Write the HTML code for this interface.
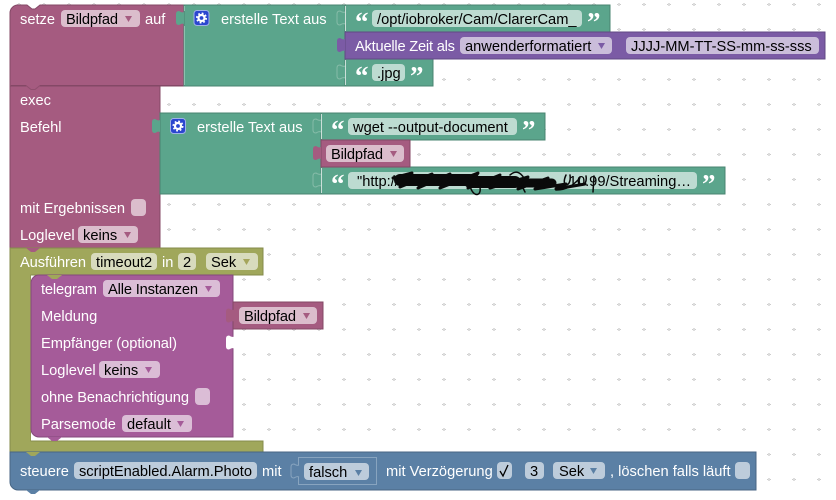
<!DOCTYPE html>
<html>
<head>
<meta charset="utf-8">
<style>
html,body{margin:0;padding:0;background:#fff;width:836px;height:500px;overflow:hidden}
svg{display:block}
text{font-family:"Liberation Sans",Arial,sans-serif;font-size:14.67px;fill:#000}
.w{fill:#fff}
.q{font-family:"Liberation Serif",serif;font-weight:bold;font-size:27px;fill:#fff}
.rose{fill:#a55b80;stroke:#844866}
.green{fill:#5ba58c;stroke:#498470}
.purple{fill:#7b5ba5;stroke:#624984}
.olive{fill:#a0a75b;stroke:#858b4b}
.tele{fill:#a55b99;stroke:#844a7b}
.blue{fill:#5b80a5;stroke:#486684}
.fr{fill:#dbbdcc}.fg{fill:#bddbd1}.fp{fill:#cabdda}.fo{fill:#d8dbbd}.ft{fill:#dbbdd6}.fb{fill:#bdccdb}
.ar{fill:#a55b80}.ag{fill:#a5a55b}.ap{fill:#7b5ba5}.at{fill:#a55b99}.ab{fill:#5b80a5}
.nt{fill:#5ba58c;stroke:#86bca9}
</style>
</head>
<body>
<svg width="836" height="500" viewBox="0 0 836 500" xmlns="http://www.w3.org/2000/svg">
<defs>
<pattern id="g" width="25" height="25" patternUnits="userSpaceOnUse">
<rect x="17" y="4" width="4" height="1" fill="#ccc"/><rect x="18" y="3" width="2" height="3" fill="#ddd"/>
</pattern>
<g id="gear">
<rect x="0.5" y="0.5" width="15" height="15" rx="3" fill="#2b46cf" stroke="#9fb0e8"/>
<circle cx="8" cy="8" r="3" fill="none" stroke="#fff" stroke-width="2.2"/>
<circle cx="8" cy="8" r="4.7" fill="none" stroke="#fff" stroke-width="1.6" stroke-dasharray="1.8 1.9"/>
</g>
<path id="tab" d="M8 1 c-2 1 -3 0 -5 -1 q-3 0 -3 3 v8 q0 3 3 3 c2 -1 3 -2 5 -1 z"/>
<path id="tabo" d="M8 1 c-2 1 -3 0 -5 -1 q-3 0 -3 3 v8 q0 3 3 3 c2 -1 3 -2 5 -1"/>
</defs>
<rect width="836" height="500" fill="#fff"/>
<rect width="836" height="500" fill="url(#g)"/>

<!-- setze -->
<path class="rose" d="M18 5 H27 l5 4 h3 l5-4 H184 V86 H10 V13 a8 8 0 0 1 8-8z"/>
<!-- exec -->
<path class="rose" d="M10 86 H160 V248 H10z"/>
<path d="M11 85.500 H183" stroke="#844866" fill="none"/>
<path d="M26 85 l5 4 h4 l5-4z" fill="#a55b80"/>
<path d="M26 85.500 l5 4 h4 l5-4" fill="none" stroke="#8f4f6e"/>
<!-- olive -->
<path class="olive" d="M10 248 H263 V275 H31 V441 H263 V452 H10z"/>
<rect x="31" y="275.500" width="202" height="165" fill="#fff"/>
<path d="M26 248 l5 4 h4 l5-4z" fill="#a55b80"/>
<!-- telegram -->
<path class="tele" d="M39 275 H233 V437 H39 a8 8 0 0 1 -8-8 V283 a8 8 0 0 1 8-8z"/>
<path d="M47 275 l5 4 h5 l5-4z" fill="#a0a75b"/>
<path d="M47 437 l5 4 h5 l5-4z" fill="#a55b99"/>
<use href="#tab" x="226" y="335.500" fill="#fff"/>
<!-- steuere -->
<path class="blue" d="M10 452 H756 V490 H18 a8 8 0 0 1 -8-8z"/>
<path d="M26 452 l5 4 h4 l5-4z" fill="#a0a75b"/>
<path d="M26 490 l5 4 h4 l5-4z" fill="#5b80a5"/>
<rect x="298.500" y="457.500" width="78" height="27" fill="#5b80a5" stroke="#88a4bf"/>
<use href="#tabo" x="291" y="464" fill="#5b80a5" stroke="#88a4bf"/>

<!-- green 1 -->
<rect class="green" x="184" y="5" width="161" height="81"/>
<use href="#tab" x="176" y="11" fill="#5ba58c"/>
<path d="M184.500 6 V11 M184.500 26 V85" stroke="#8cc0ae" fill="none"/>
<rect x="345" y="5" width="265" height="27" class="green"/>
<use href="#tabo" x="337" y="11" class="nt"/>
<rect x="345" y="59" width="88" height="27" class="green"/>
<use href="#tabo" x="337" y="65" class="nt"/>
<rect x="345" y="32" width="480" height="27" class="purple"/>
<use href="#tab" x="337" y="38" fill="#7b5ba5"/>
<path d="M345.500 6 V31 M345.500 60 V85" stroke="#fff" stroke-opacity=".7" fill="none"/>

<!-- green 2 -->
<rect class="green" x="160" y="113" width="161" height="81"/>
<use href="#tab" x="152" y="119" fill="#5ba58c"/>
<rect x="321" y="113" width="224" height="27" class="green"/>
<use href="#tabo" x="313" y="119" class="nt"/>
<rect x="321" y="167" width="404" height="27" class="green"/>
<use href="#tabo" x="313" y="173" class="nt"/>
<rect class="rose" x="321" y="140" width="89" height="27"/>
<use href="#tab" x="313" y="146" fill="#a55b80"/>
<path d="M321.500 114 V139 M321.500 168 V193" stroke="#fff" stroke-opacity=".7" fill="none"/>

<!-- Bildpfad in telegram -->
<rect class="rose" x="233" y="302" width="90" height="27"/>
<use href="#tab" x="226" y="308.500" fill="#a55b80"/>

<!-- row 1 -->
<text class="w" x="20" y="24">setze</text>
<rect class="fr" x="61" y="10" width="79" height="17" rx="4"/>
<text x="66" y="24" textLength="52">Bildpfad</text>
<polygon class="ar" points="125,16 132,16 128.500,22"/>
<text class="w" x="145" y="24">auf</text>
<use href="#gear" x="193.500" y="10"/>
<text class="w" x="221" y="24">erstelle Text aus</text>
<text class="q" x="355" y="31">“</text>
<rect class="fg" x="372" y="10" width="210" height="17" rx="4"/>
<text x="377" y="24">/opt/iobroker/Cam/ClarerCam_</text>
<text class="q" x="587" y="31">”</text>
<text class="w" x="355" y="51" textLength="100">Aktuelle Zeit als</text>
<rect class="fp" x="460" y="37" width="152" height="17" rx="4"/>
<text x="465" y="51">anwenderformatiert</text>
<polygon class="ap" points="598,43 605,43 601.500,49"/>
<rect class="fp" x="626" y="37" width="193" height="17" rx="4"/>
<text x="631" y="51">JJJJ-MM-TT-SS-mm-ss-sss</text>
<text class="q" x="355" y="85">“</text>
<rect class="fg" x="372" y="64" width="33" height="17" rx="4"/>
<text x="377" y="78">.jpg</text>
<text class="q" x="410" y="85">”</text>

<!-- exec -->
<text class="w" x="20" y="105">exec</text>
<text class="w" x="20" y="132">Befehl</text>
<use href="#gear" x="170" y="118"/>
<text class="w" x="197" y="132">erstelle Text aus</text>
<text class="q" x="331" y="139">“</text>
<rect class="fg" x="348" y="118" width="169" height="17" rx="4"/>
<text x="353" y="132">wget --output-document</text>
<text class="q" x="522" y="139">”</text>
<rect class="fr" x="326" y="145" width="78" height="17" rx="4"/>
<text x="331" y="159" textLength="52">Bildpfad</text>
<polygon class="ar" points="390,151 397,151 393.500,157"/>
<text class="q" x="331" y="193">“</text>
<rect class="fg" x="348" y="172" width="349" height="17" rx="4"/>
<text x="357" y="186">"http://</text>
<text x="691" y="186" text-anchor="end">10.99/Streaming…</text>
<text class="q" x="702" y="193">”</text>
<!-- scribble -->
<g fill="none" stroke="#0a0a0a" stroke-linejoin="round" stroke-linecap="round">
<path stroke-width="12" d="M400 180 H470 M470 182 H515"/>
<path stroke-width="9" d="M515 183 H552"/>
<path stroke-width="3" d="M393 178 L412 173 L400 187 L432 174 L418 188 L450 174 L440 188 L478 173 L468 188 L500 175 L490 188 L528 177 L518 189 L548 178 L535 189 L566 184 L556 189 L585 184"/>
<path stroke-width="1.500" d="M470 185 C472 198 484 198 479 183 M520 182 L525 192 M556 190 C568 190 574 184 578 180 M594 176 L593 192 M566 175 C560 188 572 188 570 175 M580 177 C576 188 588 188 586 176 M510 175 C516 170 520 172 524 178"/>
</g>
<text class="w" x="20" y="213">mit Ergebnissen</text>
<rect class="fr" x="131" y="199" width="15" height="17" rx="4"/>
<text class="w" x="20" y="240">Loglevel</text>
<rect class="fr" x="78" y="226" width="60" height="17" rx="4"/>
<text x="83" y="240">keins</text>
<polygon class="ar" points="124,232 131,232 127.500,238"/>

<!-- Ausführen -->
<text class="w" x="20" y="267" textLength="66">Ausführen</text>
<rect class="fo" x="91" y="253" width="66" height="17" rx="4"/>
<text x="96" y="267">timeout2</text>
<text class="w" x="162" y="267">in</text>
<rect class="fo" x="178" y="253" width="18" height="17" rx="4"/>
<text x="183" y="267">2</text>
<rect class="fo" x="206" y="253" width="52" height="17" rx="4"/>
<text x="211" y="267">Sek</text>
<polygon class="ag" points="243,259 250,259 246.500,265"/>

<!-- telegram -->
<text class="w" x="41" y="294" textLength="56">telegram</text>
<rect class="ft" x="103" y="280" width="117" height="17" rx="4"/>
<text x="108" y="294" textLength="90">Alle Instanzen</text>
<polygon class="at" points="205,286 212,286 208.500,292"/>
<text class="w" x="41" y="321">Meldung</text>
<rect class="fr" x="239" y="307" width="78" height="17" rx="4"/>
<text x="244" y="321" textLength="52">Bildpfad</text>
<polygon class="ar" points="303,313 310,313 306.500,319"/>
<text class="w" x="41" y="348" textLength="136">Empfänger (optional)</text>
<text class="w" x="41" y="375">Loglevel</text>
<rect class="ft" x="99" y="361" width="61" height="17" rx="4"/>
<text x="104" y="375">keins</text>
<polygon class="at" points="145,367 152,367 148.500,373"/>
<text class="w" x="41" y="402" textLength="148">ohne Benachrichtigung</text>
<rect class="ft" x="195" y="388" width="15" height="17" rx="4"/>
<text class="w" x="41" y="429">Parsemode</text>
<rect class="ft" x="122" y="415" width="70" height="17" rx="4"/>
<text x="127" y="429">default</text>
<polygon class="at" points="177,421 184,421 180.500,427"/>

<!-- steuere -->
<text class="w" x="20" y="476">steuere</text>
<rect class="fb" x="74" y="462" width="183" height="17" rx="4"/>
<text x="79" y="476" textLength="173">scriptEnabled.Alarm.Photo</text>
<text class="w" x="262" y="476">mit</text>
<rect class="fb" x="304" y="463" width="65" height="17" rx="4"/>
<text x="309" y="477">falsch</text>
<polygon class="ab" points="355,470 362,470 358.500,476"/>
<text class="w" x="386" y="476">mit Verzögerung</text>
<rect class="fb" x="497" y="462" width="15" height="17" rx="4"/>
<path d="M500 471 L503 476 L508 465" fill="none" stroke="#000" stroke-width="1.300"/>
<rect class="fb" x="525" y="462" width="19" height="17" rx="4"/>
<text x="530" y="476">3</text>
<rect class="fb" x="553" y="462" width="52" height="17" rx="4"/>
<text x="559" y="476">Sek</text>
<polygon class="ab" points="590,468 597,468 593.500,474"/>
<text class="w" x="610" y="476">, löschen falls läuft</text>
<rect class="fb" x="735" y="462" width="15" height="17" rx="4"/>
</svg>
</body>
</html>
